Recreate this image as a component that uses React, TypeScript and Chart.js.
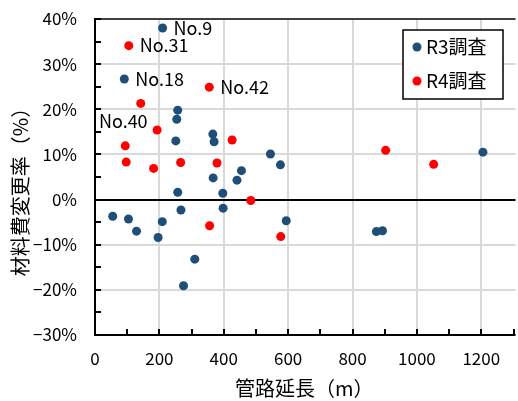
import React, { useEffect, useRef } from "react";
import { Chart, registerables } from "chart.js";

Chart.register(...registerables);

// R3調査 (pipe length m, material cost change %)
const r3X = [210, 91, 257, 254, 251, 366, 370, 455, 367, 441, 257, 397, 545, 576, 1205, 55, 104, 129, 196, 209, 267, 310, 275, 398, 594, 874, 893];
const r3Y = [38.0, 26.7, 19.8, 17.8, 13.0, 14.5, 12.8, 6.4, 4.8, 4.3, 1.6, 1.4, 10.1, 7.7, 10.5, -3.7, -4.3, -7.0, -8.4, -4.9, -2.3, -13.2, -19.1, -1.9, -4.7, -7.1, -6.9];
// R4調査
const r4X = [105, 355, 142, 193, 426, 94, 97, 266, 182, 379, 903, 1052, 356, 484, 577];
const r4Y = [34.1, 24.9, 21.3, 15.4, 13.2, 11.9, 8.3, 8.2, 6.9, 8.1, 10.9, 7.8, -5.8, -0.2, -8.2];

const seriesNames = ["R3調査", "R4調査"];
const seriesColors = ["#1F4E79", "#FF0000"];

const xTicks = [0, 200, 400, 600, 800, 1000, 1200];
const yTicks = [-30, -20, -10, 0, 10, 20, 30, 40];

// point annotations: [series index, point index, text, placement]
const pointLabels: [number, number, string, string][] = [
  [0, 0, "No.9", "right"],
  [1, 0, "No.31", "right"],
  [0, 1, "No.18", "right"],
  [1, 1, "No.42", "right"],
  [1, 5, "No.40", "above"],
];

const xTitle = "管路延長（m）";
const yTitle = "材料費変更率（%）";
const FONT = "'Noto Sans CJK JP', 'Noto Sans', sans-serif";

const overlay = {
  id: "overlay",
  beforeDatasetsDraw(chart: any) {
    const ctx = chart.ctx;
    const { left, right, top, bottom } = chart.chartArea;
    const xs = chart.scales.x;
    const ys = chart.scales.y;
    ctx.save();
    ctx.fillStyle = "#D9D9D9";
    for (const v of xTicks) {
      if (v === 0) continue;
      const px = Math.round(xs.getPixelForValue(v));
      ctx.fillRect(px - 1, top, 2, bottom - top);
    }
    for (const v of yTicks) {
      if (v === 0) continue;
      const py = Math.round(ys.getPixelForValue(v));
      ctx.fillRect(left, py - 1, right + 2 - left, 2);
    }
    ctx.fillStyle = "#000";
    ctx.fillRect(left, Math.round(ys.getPixelForValue(0)) - 1, right + 2 - left, 2);
    ctx.restore();
  },
  afterDraw(chart: any) {
    const ctx = chart.ctx;
    const { left, right, top, bottom } = chart.chartArea;
    const xs = chart.scales.x;
    const ys = chart.scales.y;
    ctx.save();
    const L = Math.round(left), T = Math.round(top), B = Math.round(bottom);
    // top border
    ctx.fillStyle = "#404040";
    ctx.fillRect(L - 1, T - 1, right + 3 - L, 2);
    // axes
    ctx.fillStyle = "#000";
    ctx.fillRect(L - 1, B - 1, right + 3 - L, 2);
    ctx.fillRect(L - 1, T - 1, 2, B - T + 2);
    // inward ticks
    for (let v = 100; v <= 1300; v += 100) {
      const px = Math.round(xs.getPixelForValue(v));
      ctx.fillRect(px - 1, B - 6, 2, 6);
    }
    for (let v = -25; v <= 40; v += 5) {
      const py = Math.round(ys.getPixelForValue(v));
      ctx.fillRect(L, py - 1, 6, 2);
    }
    // point labels
    ctx.fillStyle = "#000";
    ctx.font = `18px ${FONT}`;
    ctx.textBaseline = "middle";
    for (const [s, i, text, place] of pointLabels) {
      const xv = s === 0 ? r3X[i] : r4X[i];
      const yv = s === 0 ? r3Y[i] : r4Y[i];
      const px = xs.getPixelForValue(xv);
      const py = ys.getPixelForValue(yv);
      if (place === "right") {
        ctx.textAlign = "left";
        ctx.fillText(text, px + 11, py);
      } else {
        ctx.textAlign = "center";
        ctx.fillText(text, px - 2, py - 25);
      }
    }
    // legend
    const lx = 403, ly = 30, lw = 100, lh = 69;
    ctx.fillStyle = "#fff";
    ctx.fillRect(lx, ly, lw, lh);
    ctx.strokeStyle = "#000";
    ctx.lineWidth = 1.5;
    ctx.strokeRect(lx, ly, lw, lh);
    ctx.font = `19px ${FONT}`;
    ctx.textAlign = "left";
    seriesNames.forEach((name, k) => {
      const cy = ly + 17 + k * 34;
      ctx.fillStyle = seriesColors[k];
      ctx.beginPath();
      ctx.arc(lx + 14, cy, 4.5, 0, Math.PI * 2);
      ctx.fill();
      ctx.fillStyle = "#000";
      ctx.fillText(name, lx + 23, cy);
    });
    // axis titles
    ctx.font = `20px ${FONT}`;
    ctx.textAlign = "center";
    ctx.fillText(xTitle, (left + right) / 2, 388);
    ctx.translate(20, 187);
    ctx.rotate(-Math.PI / 2);
    ctx.fillText(yTitle, 0, 0);
    ctx.restore();
  },
};

const zeroPad = (s: any) => {
  s.paddingTop = 0;
  s.paddingBottom = 0;
  s.paddingLeft = 0;
  s.paddingRight = 0;
};

export default function App() {
  const ref = useRef<HTMLCanvasElement>(null);
  useEffect(() => {
    document.body.style.margin = "0";
    const chart = new Chart(ref.current!, {
      type: "scatter",
      data: {
        datasets: [
          {
            label: seriesNames[0],
            data: r3X.map((x, i) => ({ x, y: r3Y[i] })),
            backgroundColor: seriesColors[0],
            borderColor: seriesColors[0],
            pointRadius: 4.5,
            borderWidth: 0,
          },
          {
            label: seriesNames[1],
            data: r4X.map((x, i) => ({ x, y: r4Y[i] })),
            backgroundColor: seriesColors[1],
            borderColor: seriesColors[1],
            pointRadius: 4.5,
            borderWidth: 0,
          },
        ],
      },
      options: {
        animation: false,
        responsive: false,
        layout: { padding: { left: 0, right: 1, top: 19, bottom: 0 } },
        plugins: { legend: { display: false }, tooltip: { enabled: false } },
        scales: {
          x: {
            type: "linear",
            min: 0,
            max: 1300,
            afterBuildTicks: (s: any) => {
              s.ticks = xTicks.map((v) => ({ value: v }));
            },
            afterFit: (s: any) => {
              s.height = 66;
              zeroPad(s);
            },
            ticks: {
              color: "#000",
              padding: 13,
              maxRotation: 0,
              autoSkip: false,
              font: { size: 17, family: FONT },
              callback: (v: any) => String(v),
            },
            grid: { display: false, drawTicks: false },
            border: { display: false },
          },
          y: {
            type: "linear",
            min: -30,
            max: 40,
            afterBuildTicks: (s: any) => {
              s.ticks = yTicks.map((v) => ({ value: v }));
            },
            afterFit: (s: any) => {
              s.width = 95;
              zeroPad(s);
            },
            ticks: {
              color: "#000",
              padding: 18,
              autoSkip: false,
              font: { size: 17, family: FONT },
              callback: (v: any) => (v < 0 ? "−" + Math.abs(v) : String(v)) + "%",
            },
            grid: { display: false, drawTicks: false },
            border: { display: false },
          },
        },
      },
      plugins: [overlay],
    });
    return () => chart.destroy();
  }, []);
  return <canvas ref={ref} width={518} height={401} style={{ display: "block" }} />;
}
